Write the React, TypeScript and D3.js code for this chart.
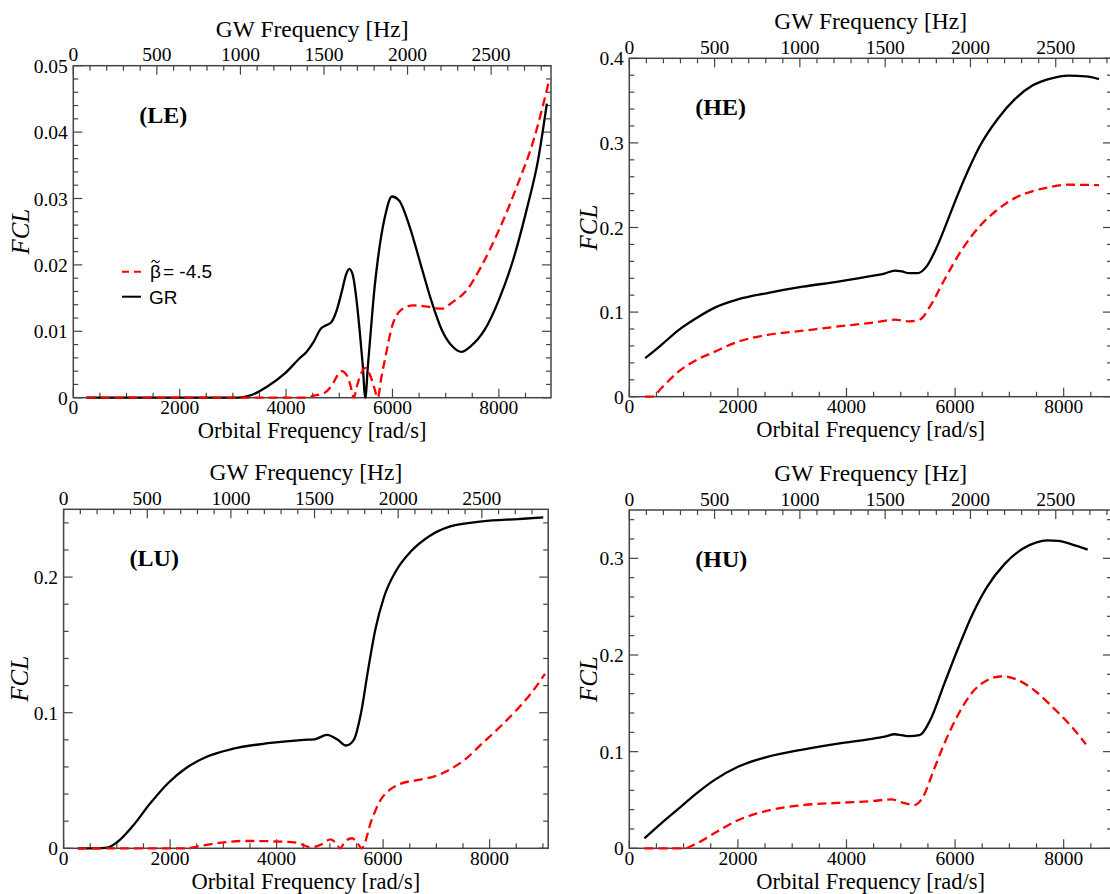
import * as d3 from 'd3';
import { useEffect, useRef } from 'react';

const width = 1110;
const height = 894;
const serif = "'Liberation Serif', 'Times New Roman', Times, 'DejaVu Serif', serif";
const sans = "'Liberation Sans', Arial, Helvetica, 'DejaVu Sans', sans-serif";

// (LE) panel
const leOmegaGR = [250, 1000, 2000, 3000, 3100, 3313, 3648, 3983, 4250, 4384, 4518, 4652, 4752, 4853, 4953, 5054, 5130, 5187, 5250, 5320, 5388, 5440, 5489, 5540, 5589, 5650, 5723, 5857, 5991, 6124, 6325, 6526, 6727, 6928, 7129, 7296, 7463, 7731, 7999, 8266, 8534, 8735, 8902];
const leGR = [0, 0, 0, 0, 0, 0.0003, 0.0017, 0.0037, 0.0059, 0.0069, 0.0084, 0.0104, 0.0109, 0.0114, 0.0132, 0.0162, 0.0186, 0.0194, 0.0186, 0.015, 0.0097, 0.005, 0, 0.005, 0.0097, 0.0155, 0.0207, 0.0272, 0.0303, 0.0297, 0.0257, 0.0202, 0.0147, 0.0102, 0.0077, 0.0069, 0.0077, 0.0102, 0.0147, 0.0207, 0.0287, 0.0357, 0.0443];
const leOmegaBeta = [250, 1000, 2000, 3000, 4000, 4384, 4518, 4719, 4886, 4960, 5040, 5154, 5215, 5274, 5330, 5388, 5489, 5589, 5650, 5723, 5790, 5857, 5991, 6158, 6392, 6660, 6928, 7129, 7396, 7664, 7999, 8333, 8668, 8936];
const leBeta = [0, 0, 0, 0, 0, 0, 0.0003, 0.0007, 0.0022, 0.0033, 0.004, 0.0032, 0.0017, 0, 0.0017, 0.0032, 0.0045, 0.0032, 0.0017, 0, 0.003, 0.0057, 0.0107, 0.0132, 0.0139, 0.0137, 0.0134, 0.0144, 0.0162, 0.0197, 0.0252, 0.0317, 0.0392, 0.0475];

// (HE) panel
const heOmegaGR = [293, 587, 913, 1239, 1565, 2001, 2542, 3194, 3846, 4498, 4700, 4889, 5020, 5150, 5313, 5476, 5671, 5867, 6063, 6258, 6454, 6780, 7106, 7432, 7758, 8083, 8409, 8650];
const heGR = [0.0455, 0.061, 0.079, 0.093, 0.105, 0.115, 0.1225, 0.13, 0.136, 0.143, 0.1455, 0.149, 0.148, 0.146, 0.146, 0.154, 0.178, 0.209, 0.241, 0.27, 0.296, 0.328, 0.352, 0.368, 0.376, 0.3795, 0.3787, 0.3755];
const heOmegaBeta = [293, 424, 587, 913, 1239, 1565, 2001, 2542, 3194, 3846, 4498, 4889, 5150, 5346, 5541, 5802, 6128, 6454, 6780, 7106, 7432, 7758, 8083, 8650];
const heBeta = [0, 0, 0.01, 0.03, 0.0435, 0.053, 0.065, 0.073, 0.078, 0.083, 0.0877, 0.091, 0.089, 0.091, 0.107, 0.138, 0.174, 0.2016, 0.221, 0.235, 0.243, 0.248, 0.2506, 0.25];

// (LU) panel
const luOmegaGR = [268, 600, 819, 1020, 1289, 1624, 1960, 2295, 2698, 3168, 3839, 4510, 4711, 4946, 5148, 5302, 5450, 5584, 5718, 5852, 6020, 6255, 6523, 6859, 7262, 7866, 8537, 9007];
const luGR = [0, 0, 0.0005, 0.005, 0.016, 0.033, 0.048, 0.059, 0.0677, 0.0733, 0.0775, 0.08, 0.0804, 0.0836, 0.08, 0.0758, 0.08, 0.0996, 0.1316, 0.161, 0.1857, 0.2054, 0.219, 0.23, 0.2374, 0.2411, 0.2428, 0.244];
const luOmegaBeta = [268, 1000, 2000, 2300, 2564, 2966, 3369, 3906, 4376, 4644, 4711, 4846, 5013, 5114, 5195, 5282, 5416, 5517, 5597, 5785, 5953, 6121, 6322, 6658, 6993, 7262, 7530, 7866, 8201, 8537, 8805, 9040];
const luBeta = [0, 0, 0, 0, 0.0017, 0.0042, 0.0054, 0.0052, 0.0042, 0.0007, 0.001, 0.003, 0.0066, 0.0037, 0, 0.005, 0.0074, 0.0037, 0, 0.021, 0.0357, 0.043, 0.0475, 0.0504, 0.0534, 0.0583, 0.0652, 0.0775, 0.0898, 0.1033, 0.1156, 0.1287];

// (HU) panel
const huOmegaGR = [280, 587, 913, 1239, 1565, 2001, 2542, 3194, 3846, 4498, 4700, 4889, 5020, 5150, 5346, 5541, 5802, 6063, 6323, 6584, 6910, 7236, 7500, 7700, 7900, 8149, 8442];
const huGR = [0.0103, 0.0258, 0.0413, 0.0568, 0.0705, 0.0843, 0.0946, 0.1022, 0.1084, 0.1135, 0.1155, 0.118, 0.117, 0.116, 0.117, 0.1324, 0.1703, 0.208, 0.2425, 0.27, 0.294, 0.3096, 0.3165, 0.3185, 0.318, 0.3145, 0.309];
const huOmegaBeta = [280, 600, 1010, 1239, 1565, 2001, 2542, 3194, 3846, 4498, 4824, 5085, 5248, 5411, 5606, 5802, 6063, 6323, 6584, 6877, 7171, 7497, 7823, 8149, 8409];
const huBeta = [0, 0, 0, 0.005, 0.0155, 0.029, 0.0389, 0.0447, 0.047, 0.049, 0.0506, 0.0464, 0.0447, 0.0533, 0.0808, 0.1084, 0.139, 0.1617, 0.1737, 0.178, 0.1737, 0.1617, 0.1445, 0.1256, 0.1077];

const panels = [
  { name: '(LE)', left: 73.3, right: 551, top: 65.7, bottom: 397.7, xMax: 8980, yMax: 0.05, yMajor: 0.01, yMinor: 0.002, fclX: 21.4,
    gr: [leOmegaGR, leGR], beta: [leOmegaBeta, leBeta], legend: true },
  { name: '(HE)', left: 629.3, right: 1112, top: 58.3, bottom: 396.7, xMax: 8890, yMax: 0.4, yMajor: 0.1, yMinor: 0.02, fclX: 588.6,
    gr: [heOmegaGR, heGR], beta: [heOmegaBeta, heBeta], legend: false },
  { name: '(LU)', left: 63.6, right: 548.2, top: 509.3, bottom: 848.3, xMax: 9100, yMax: 0.25, yMajor: 0.1, yMinor: 0.02, fclX: 19.6,
    gr: [luOmegaGR, luGR], beta: [luOmegaBeta, luBeta], legend: false },
  { name: '(HU)', left: 629.3, right: 1112, top: 510, bottom: 848.3, xMax: 8890, yMax: 0.35, yMajor: 0.1, yMinor: 0.02, fclX: 588.6,
    gr: [huOmegaGR, huGR], beta: [huOmegaBeta, huBeta], legend: false },
];

function tickSet(max: number, major: number, minor: number) {
  const n = Math.floor(max / minor + 1e-6);
  const k = Math.round(major / minor);
  return d3.range(n + 1).map((i) => ({ v: i * minor, major: i % k === 0 }));
}

const fmt = (v: number) => String(+v.toFixed(4));

function App() {
  const wrapperRef = useRef<HTMLDivElement>(null);

  useEffect(() => {
    const wrapper = d3.select(wrapperRef.current);
    const svg = wrapper
      .append('svg')
      .attr('width', width)
      .attr('height', height)
      .style('position', 'absolute')
      .style('left', '0px')
      .style('top', '0px')
      .style('background', '#fff');

    panels.forEach((p) => {
      const g = svg.append('g');
      const x = d3.scaleLinear().domain([0, p.xMax]).range([p.left, p.right]);
      const xGW = d3.scaleLinear().domain([0, p.xMax / Math.PI]).range([p.left, p.right]);
      const y = d3.scaleLinear().domain([0, p.yMax]).range([p.bottom, p.top]);

      const tickColor = '#444';
      const ticks = g.append('g').attr('stroke', tickColor).attr('stroke-width', 1.2);
      const label = (tx: number, ty: number, s: string, anchor = 'middle') =>
        g.append('text').attr('x', tx).attr('y', ty).attr('text-anchor', anchor)
          .style('font-family', serif).attr('font-size', 19.5).text(s);

      tickSet(p.xMax, 2000, 500).forEach((t) => {
        const len = t.major ? 9 : 5;
        ticks.append('line').attr('x1', x(t.v)).attr('x2', x(t.v)).attr('y1', p.bottom).attr('y2', p.bottom - len);
        if (t.major) label(x(t.v), p.bottom + 16.5, fmt(t.v));
      });
      tickSet(p.xMax / Math.PI, 500, 100).forEach((t) => {
        const len = t.major ? 9 : 5;
        ticks.append('line').attr('x1', xGW(t.v)).attr('x2', xGW(t.v)).attr('y1', p.top).attr('y2', p.top + len);
        if (t.major) label(xGW(t.v), p.top - 4.5, fmt(t.v));
      });
      tickSet(p.yMax, p.yMajor, p.yMinor).forEach((t) => {
        const len = t.major ? 9 : 5;
        ticks.append('line').attr('x1', p.left).attr('x2', p.left + len).attr('y1', y(t.v)).attr('y2', y(t.v));
        ticks.append('line').attr('x1', p.right).attr('x2', p.right - len).attr('y1', y(t.v)).attr('y2', y(t.v));
        if (t.major) label(p.left - 5.5, y(t.v) + 7, fmt(t.v), 'end');
      });

      g.append('rect')
        .attr('x', p.left).attr('y', p.top)
        .attr('width', p.right - p.left).attr('height', p.bottom - p.top)
        .attr('fill', 'none').attr('stroke', tickColor).attr('stroke-width', 1.5);

      const cx = (p.left + p.right) / 2;
      g.append('text').attr('x', cx).attr('y', p.top - 29).attr('text-anchor', 'middle')
        .style('font-family', serif).attr('font-size', 23.5).text('GW Frequency [Hz]');
      g.append('text').attr('x', cx).attr('y', p.bottom + 40.5).attr('text-anchor', 'middle')
        .style('font-family', serif).attr('font-size', 22.5).text('Orbital Frequency [rad/s]');
      g.append('text')
        .attr('transform', `translate(${p.fclX + 8}, ${(p.top + p.bottom) / 2}) rotate(-90)`)
        .attr('text-anchor', 'middle')
        .style('font-family', serif).attr('font-style', 'italic').attr('font-size', 25).text('FCL');
      g.append('text').attr('x', p.left + 66).attr('y', p.top + 57)
        .style('font-family', serif).attr('font-weight', 'bold').attr('font-size', 24).text(p.name);

      const [grX, grY] = p.gr;
      const [bX, bY] = p.beta;
      const lineGR = d3.line<number>().x((_, i) => x(grX[i])).y((d) => y(d)).curve(d3.curveMonotoneX);
      const lineBeta = d3.line<number>().x((_, i) => x(bX[i])).y((d) => y(d)).curve(d3.curveMonotoneX);

      g.append('path').attr('d', lineGR(grY)).attr('fill', 'none').attr('stroke', '#000').attr('stroke-width', 2.3);
      g.append('path').attr('d', lineBeta(bY)).attr('fill', 'none').attr('stroke', '#ff0000')
        .attr('stroke-width', 2.3).attr('stroke-dasharray', '9,5');

      if (p.legend) {
        const lg = g.append('g').style('font-family', sans).attr('font-size', 19);
        lg.append('line').attr('x1', 122).attr('x2', 141).attr('y1', 271.7).attr('y2', 271.7)
          .attr('stroke', '#ff0000').attr('stroke-width', 2).attr('stroke-dasharray', '7,5');
        lg.append('text').attr('x', 150).attr('y', 278).text('\u03B2');
        // tilde over the beta
        const tilde = d3.line<[number, number]>().curve(d3.curveBasis);
        lg.append('path')
          .attr('d', tilde([[151.5, 262.5], [153.5, 259.5], [155.5, 261.5], [157.5, 263.5], [159.5, 260.5]]))
          .attr('fill', 'none').attr('stroke', '#000').attr('stroke-width', 1.1);
        lg.append('text').attr('x', 163).attr('y', 278).text('= -4.5');
        lg.append('line').attr('x1', 122).attr('x2', 141).attr('y1', 296.7).attr('y2', 296.7)
          .attr('stroke', '#000').attr('stroke-width', 2);
        lg.append('text').attr('x', 149).attr('y', 303.5).text('GR');
      }
    });

    return () => {
      wrapper.select('svg').remove();
    };
  }, []);

  return <div ref={wrapperRef}></div>;
}

export default App;
